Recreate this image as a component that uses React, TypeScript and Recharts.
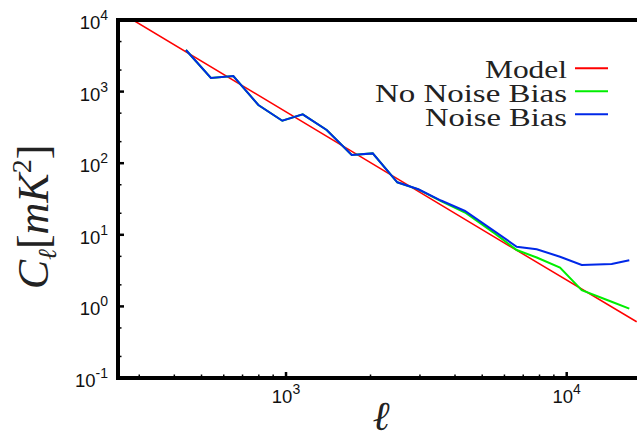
import React from 'react';
import { LineChart, Line, XAxis, YAxis } from 'recharts';

// ---- data ----
const ell = [440, 540, 649, 797, 970, 1147, 1396, 1714, 2037, 2492, 2960, 3566, 4342, 5554, 6636, 7818, 9465, 11310, 14460, 16710];
const noiseBias = [3811, 1549, 1652, 650, 392, 482, 291, 130, 137, 54.1, 43.2, 30.1, 21.5, 11.05, 6.82, 6.27, 4.94, 3.79, 3.91, 4.41];
const noNoiseBias = [3811, 1549, 1652, 650, 392, 482, 291, 130, 137, 54.1, 43.2, 29.5, 20.5, 10.4, 6.13, 4.82, 3.49, 1.69, 1.16, 0.929];
const modelEll = [285, 4909, 17750];
const modelC = [10000, 12.3, 0.61];

const xDomain = [252, 17800];
const yDomain = [0.1, 10000];
const xTicks = [300, 400, 500, 600, 700, 800, 900, 1000, 2000, 3000, 4000, 5000, 6000, 7000, 8000, 9000, 10000];
const yTicks = [0.1, 0.2, 0.5, 1, 2, 5, 10, 20, 50, 100, 200, 500, 1000, 2000, 5000, 10000];

const seriesNames = ['Model', 'No Noise Bias', 'Noise Bias'];
const seriesColors = ['#ff0000', '#00ee00', '#0028e8'];

const modelData = modelEll.map((l, i) => ({ l, c: modelC[i] }));
const noNoiseData = ell.map((l, i) => ({ l, c: noNoiseBias[i] }));
const noiseData = ell.map((l, i) => ({ l, c: noiseBias[i] }));

const W = 637;
const H = 438;
const PLOT = { left: 118, top: 20, bottom: 378 };

const isMajor = (v: number) => Math.abs(Math.log10(v) - Math.round(Math.log10(v))) < 1e-9;
const expOf = (v: number) => Math.round(Math.log10(v));

const TickLabel = ({ x, y, v, anchor }: { x: number; y: number; v: number; anchor: 'end' | 'middle' }) => (
  <text x={x} y={y} textAnchor={anchor} fill="#111" fontFamily="Liberation Sans, Arial, sans-serif" fontSize={18.5}>
    <tspan>10</tspan>
    <tspan dy={-9} fontSize={14}>{String(expOf(v))}</tspan>
  </text>
);

const BottomTick = (props: any) => {
  const { x, y, payload } = props;
  const v = payload.value;
  const major = isMajor(v);
  return (
    <g>
      <line x1={x} y1={y} x2={x} y2={y - (major ? 6 : 3.5)} stroke="#000" strokeWidth={major ? 2.5 : 1.5} />
      {major && <TickLabel x={x} y={y + 25} v={v} anchor="middle" />}
    </g>
  );
};

const TopTick = (props: any) => {
  const { x, y, payload } = props;
  const major = isMajor(payload.value);
  return <line x1={x} y1={y} x2={x} y2={y + (major ? 6 : 3.5)} stroke="#000" strokeWidth={major ? 2.5 : 1.5} />;
};

const LeftTick = (props: any) => {
  const { x, y, payload } = props;
  const v = payload.value;
  const major = isMajor(v);
  return (
    <g>
      <line x1={x} y1={y} x2={x + (major ? 6 : 3.5)} y2={y} stroke="#000" strokeWidth={major ? 2.5 : 1.5} />
      {major && <TickLabel x={x - 10} y={y + 9} v={v} anchor="end" />}
    </g>
  );
};

const legendWidths = [82, 192, 142];

export default function App() {
  return (
    <div style={{ position: 'absolute', left: 0, top: 0, width: W, height: H, background: '#fff' }}>
      <LineChart width={W} height={H} margin={{ top: PLOT.top, right: 0, bottom: 0, left: 0 }}>
        <XAxis
          xAxisId="b"
          dataKey="l"
          type="number"
          scale="log"
          domain={xDomain}
          allowDataOverflow
          ticks={xTicks}
          interval={0}
          height={H - PLOT.bottom}
          tickSize={0}
          tickMargin={0}
          tickLine={false}
          axisLine={{ stroke: '#000', strokeWidth: 4 }}
          tick={<BottomTick />}
        />
        <XAxis
          xAxisId="t"
          orientation="top"
          dataKey="l"
          type="number"
          scale="log"
          domain={xDomain}
          allowDataOverflow
          ticks={xTicks}
          interval={0}
          height={0}
          tickSize={0}
          tickMargin={0}
          tickLine={false}
          axisLine={{ stroke: '#000', strokeWidth: 4 }}
          tick={<TopTick />}
        />
        <YAxis
          dataKey="c"
          type="number"
          scale="log"
          domain={yDomain}
          allowDataOverflow
          ticks={yTicks}
          interval={0}
          width={PLOT.left}
          tickSize={0}
          tickMargin={0}
          tickLine={false}
          axisLine={{ stroke: '#000', strokeWidth: 4 }}
          tick={<LeftTick />}
        />
        <Line xAxisId="b" data={modelData} dataKey="c" stroke={seriesColors[0]} strokeWidth={1.5} dot={false} isAnimationActive={false} name={seriesNames[0]} />
        <Line xAxisId="b" data={noNoiseData} dataKey="c" stroke={seriesColors[1]} strokeWidth={2} dot={false} isAnimationActive={false} name={seriesNames[1]} />
        <Line xAxisId="b" data={noiseData} dataKey="c" stroke={seriesColors[2]} strokeWidth={2} dot={false} isAnimationActive={false} name={seriesNames[2]} />
      </LineChart>
      <svg width={W} height={H} style={{ position: 'absolute', left: 0, top: 0, pointerEvents: 'none' }}>
        {/* plot frame */}
        <line x1={PLOT.left} x2={PLOT.left} y1={PLOT.top - 2} y2={PLOT.bottom + 2} stroke="#000" strokeWidth={4} />
        <line x1={PLOT.left - 2} x2={W} y1={PLOT.top} y2={PLOT.top} stroke="#000" strokeWidth={4} />
        <line x1={PLOT.left - 2} x2={W} y1={PLOT.bottom} y2={PLOT.bottom} stroke="#000" strokeWidth={4} />
        {seriesNames.map((n, i) => (
          <g key={n}>
            <text
              x={567}
              y={78 + i * 23.8}
              textAnchor="end"
              textLength={legendWidths[i]}
              lengthAdjust="spacingAndGlyphs"
              fontFamily="Liberation Serif, Times New Roman, serif"
              fontSize={26}
              fill="#222"
            >
              {n}
            </text>
            <line x1={575} x2={608} y1={68.3 + i * 23} y2={68.3 + i * 23} stroke={seriesColors[i]} strokeWidth={2} />
          </g>
        ))}
        <text
          transform="translate(48,217) rotate(-90)"
          textAnchor="middle"
          fontFamily="Liberation Serif, Times New Roman, serif"
          fontSize={44}
          fill="#222"
        >
          <tspan fontStyle="italic">C</tspan>
          <tspan fontStyle="italic" fontSize={26} dy={8}>ℓ</tspan>
          <tspan dy={-8}>[</tspan>
          <tspan fontStyle="italic">mK</tspan>
          <tspan fontSize={28} dy={-17}>2</tspan>
          <tspan dy={17}>]</tspan>
        </text>
        <text x={381} y={430} textAnchor="middle" fontFamily="Liberation Serif, Times New Roman, serif" fontStyle="italic" fontSize={41} fill="#222">
          ℓ
        </text>
      </svg>
    </div>
  );
}
